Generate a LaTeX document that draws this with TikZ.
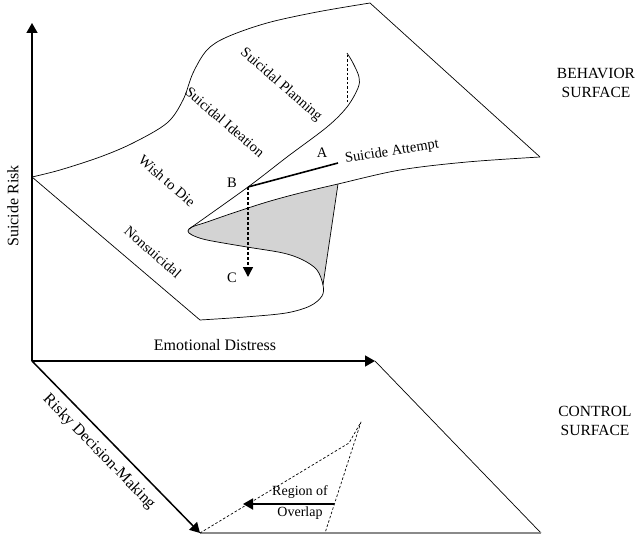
\documentclass[tikz,border=0pt]{standalone}
\usepackage{fontspec}
\setmainfont{Liberation Serif}
\usetikzlibrary{arrows.meta,positioning}
\definecolor{foldgray}{HTML}{D3D3D3}
\definecolor{edgegray}{HTML}{8A8A8A}
\tikzset{
  axis/.style={line width=1.5pt, -{Triangle[length=10pt,width=11pt]}},
  edge/.style={line width=0.7pt, line join=round},
  lbl/.style={font=\fontsize{14.5}{17}\selectfont, inner sep=0pt},
  axlbl/.style={font=\fontsize{16}{18}\selectfont, inner sep=0pt},
  surftitle/.style={font=\fontsize{15.5}{18.5}\selectfont, align=center, inner sep=0pt},
}

\begin{document}
\begin{tikzpicture}[x=1pt,y=-1pt,
  guide/.style={edge, dash pattern=on 2.5pt off 2pt},
  drop/.style={line width=1.5pt, dash pattern=on 3pt off 2pt, -{Triangle[length=10pt,width=10pt]}},
  overlaparrow/.style={line width=1.8pt, -{Triangle[length=10pt,width=11pt]}}]
  \useasboundingbox (0,0) rectangle (638,535);
  % axes
  \coordinate (O) at (32,361);
  \coordinate (risk) at (32,23);
  \coordinate (distress) at (375,361);
  \coordinate (decision) at (200,533);
  \draw[axis] (O) -- (risk);
  \draw[axis] (O) -- (distress);
  \draw[axis] (O) -- (decision);
  \node[axlbl, rotate=90] (risklbl) at (13,206) {Suicide Risk};
  \node[axlbl] (distresslbl) at (215,345) {Emotional Distress};
  \node[axlbl, rotate=-45.7] (decisionlbl) at (99,452) {Risky Decision-Making};
  % behavior surface
  \coordinate (L) at (32,177);
  \coordinate (T) at (370,3);
  \coordinate (R) at (540,157);
  \coordinate (F) at (200,320);
  \coordinate (S1) at (338,184);
  \coordinate (S2) at (323,285);
  \fill[foldgray] plot[smooth, tension=0.55] coordinates {(338,184) (300,193) (267,202)
    (233,213) (207,222) (192,227) (188,231) (192,235) (207,240) (247,247) (283,253)
    (303,260) (317,270) (323,285)} -- cycle;
  \draw[edge] plot[smooth, tension=0.55] coordinates {(32,177) (60,170) (100,157) (133,143)
    (167,123) (183,100) (193,73) (207,50) (227,37) (267,23) (317,12) (370,3)};
  \draw[edge] (T) -- (R);
  \draw[edge] plot[smooth, tension=0.55] coordinates {(540,157) (467,162) (400,170) (338,184)
    (300,193) (267,202) (233,213) (207,222) (192,227) (188,231) (192,235) (207,240)
    (247,247) (283,253) (303,260) (317,270) (323,285) (322,296) (310,306) (286,313)
    (245,317) (200,320)};
  \draw[edge] (F) -- (L);
  \draw[edge] (S2) -- (S1);
  % fold line
  \draw[edge] plot[smooth, tension=0.55] coordinates {(189,229) (248,187) (287,157)
    (327,127) (347,107) (358,88) (359,77) (353,63) (347,53)};
  \draw[guide] (347,55) -- (347,102);
  % jump
  \coordinate (B) at (248,187);
  \coordinate (A) at (338,163);
  \coordinate (C) at (248,277);
  \draw[line width=1.6pt] (B) -- (A);
  \draw[drop] (B) -- (C);
  \node[lbl] (blbl) at (232,183) {B};
  \node[lbl] (albl) at (322,153) {A};
  \node[lbl] (clbl) at (232,278) {C};
  \node[lbl, rotate=9] (attempt) at (392,152) {Suicide Attempt};
  \node[lbl, rotate=-41] (planning) at (281,85) {Suicidal Planning};
  \node[lbl, rotate=-40.5] (ideation) at (225,122) {Suicidal Ideation};
  \node[lbl, rotate=-41] (wish) at (167,181) {Wish to Die};
  \node[lbl, rotate=-41] (nonsuic) at (153,252) {Nonsuicidal};
  \node[surftitle] (behavior) at (596,83) {BEHAVIOR\\SURFACE};
  % control surface
  \coordinate (Q) at (541,533);
  \draw[edge] (distress) -- (Q);
  \draw[edgegray, line width=1.2pt] (decision) -- (Q);
  \coordinate (cusp) at (361,422);
  \draw[guide] (decision) -- (349,443) -- (cusp) -- (325,533);
  \coordinate (ovr) at (334,504);
  \coordinate (ovl) at (243,504);
  \draw[overlaparrow] (ovr) -- (ovl);
  \node[lbl, font=\fontsize{14}{16}\selectfont] (region) at (300,492) {Region of};
  \node[lbl, font=\fontsize{14}{16}\selectfont] (overlap) at (300,513) {Overlap};
  \node[surftitle] (control) at (595,421) {CONTROL\\SURFACE};
\end{tikzpicture}
\end{document}
